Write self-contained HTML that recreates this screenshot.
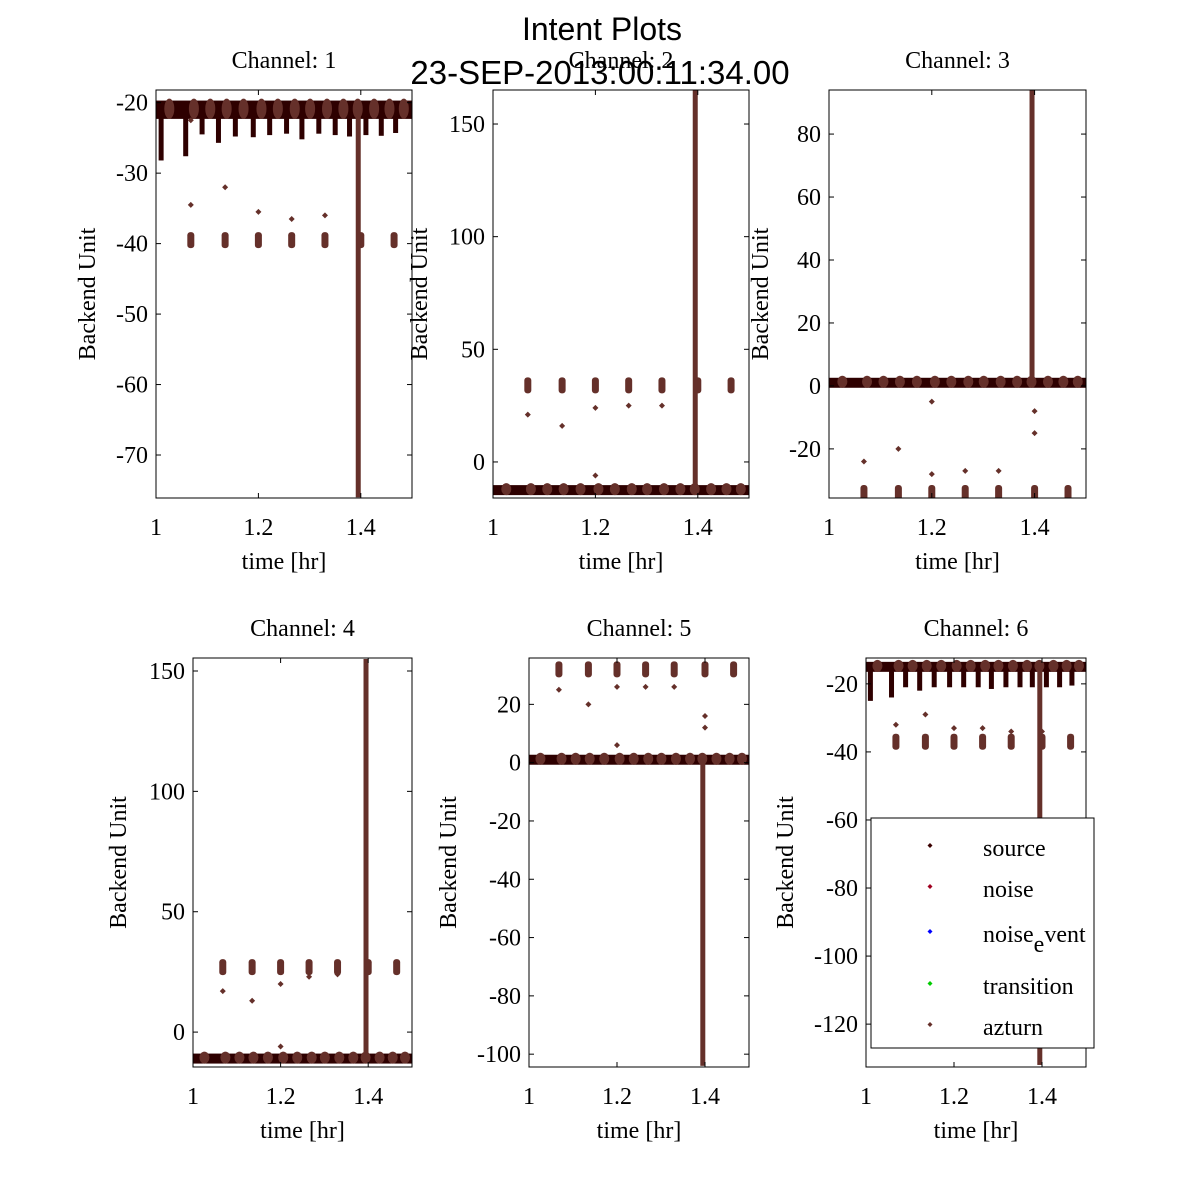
<!DOCTYPE html>
<html><head><meta charset="utf-8"><style>
body{margin:0;background:#fff}
svg{display:block}
text{font-family:"Liberation Serif",serif;fill:#000}
</style></head><body>
<svg id="fig" width="1200" height="1200" viewBox="0 0 1200 1200" xmlns="http://www.w3.org/2000/svg">
<rect width="1200" height="1200" fill="#fff"/>
<text x="602" y="40" text-anchor="middle" style="font-family:'Liberation Sans',sans-serif;font-size:32px">Intent Plots</text>
<text x="600" y="84" text-anchor="middle" style="font-family:'Liberation Sans',sans-serif;font-size:33px">23-SEP-2013:00:11:34.00</text>
<g id="panels"></g>
<g id="legend">
<rect x="871" y="818" width="223" height="230" fill="#fff" stroke="#000" stroke-width="1"/>
</g>
</svg>
<script>
// ---- data ----
const channels = ["1","2","3","4","5","6"];
const xTicks = [1, 1.2, 1.4];
const yTicks1 = [-20,-30,-40,-50,-60,-70];
const yTicks2 = [0,50,100,150];
const yTicks3 = [-20,0,20,40,60,80];
const yTicks4 = [0,50,100,150];
const yTicks5 = [-100,-80,-60,-40,-20,0,20];
const yTicks6 = [-120,-100,-80,-60,-40,-20];
const yRanges = [[-76.1,-18.2],[-16,165.1],[-35.6,94],[-14.5,155.4],[-104.4,35.9],[-132.6,-12.4]];
const bandLevels = [-21,-12.5,1,-11,1,-15];
const clusterLevels = [-39.5,34,-34,27,32,-37];
const clusterX = [1.068,1.135,1.2,1.265,1.33,1.4,1.465];
const spikeX = 1.395;
const spikeEnds = [-76,165,94,155,-104,-132];
const stripeX = [1.01,1.058,1.09,1.122,1.155,1.19,1.222,1.255,1.285,1.318,1.35,1.378,1.41,1.44,1.468];
const stripeDepth1 = [-28.2,-27.6,-24.5,-25.7,-24.8,-24.9,-24.6,-24.4,-25.2,-24.4,-24.6,-24.8,-24.6,-24.7,-24.3];
const stripeDepth6 = [-25,-24,-21,-22,-21,-21,-21,-21,-21.5,-21,-21,-21,-21,-21,-20.5];
const outliers1 = [[1.068,-34.5],[1.135,-32],[1.2,-35.5],[1.265,-36.5],[1.33,-36],[1.068,-22.5]];
const outliers2 = [[1.068,21],[1.135,16],[1.2,24],[1.265,25],[1.33,25],[1.2,-6]];
const outliers3 = [[1.068,-24],[1.135,-20],[1.2,-28],[1.265,-27],[1.33,-27],[1.4,-15],[1.4,-8],[1.2,-5]];
const outliers4 = [[1.068,17],[1.135,13],[1.2,20],[1.265,23],[1.33,24],[1.2,-6]];
const outliers5 = [[1.068,25],[1.135,20],[1.2,26],[1.265,26],[1.33,26],[1.4,16],[1.4,12],[1.2,6]];
const outliers6 = [[1.068,-32],[1.135,-29],[1.2,-33],[1.265,-33],[1.33,-34],[1.4,-34]];
const allTicks=[yTicks1,yTicks2,yTicks3,yTicks4,yTicks5,yTicks6];
const allOut=[outliers1,outliers2,outliers3,outliers4,outliers5,outliers6];
const stripes=[stripeDepth1,null,null,null,null,stripeDepth6];
// ---- layout ----
const boxes=[[156,90,412,498],[493,90,749,498],[829,90,1086,498],[193,658,412,1067],[529,658,749,1067],[866,658,1086,1067]];
const ylabX=[95,427,768,126,456,793];
const NS="http://www.w3.org/2000/svg";
const DARK="#2e0000", BR="#65302a";
const FS=24;
const root=document.getElementById('panels');
function mk(tag,attrs,parent){const e=document.createElementNS(NS,tag);for(const k in attrs)e.setAttribute(k,attrs[k]);parent.appendChild(e);return e;}
channels.forEach((ch,i)=>{
  const [L,T,R,B]=boxes[i];const [y0,y1]=yRanges[i];
  const sx=v=>L+(v-1)/(0.5)*(R-L);
  const sy=v=>B-(v-y0)/(y1-y0)*(B-T);
  const g=mk('g',{},root);
  
  
  const cid='clip'+i;
  const cp=mk('clipPath',{id:cid},g);mk('rect',{x:L,y:T,width:R-L,height:B-T},cp);
  const d=mk('g',{'clip-path':'url(#'+cid+')'},g);
  
  
  const bl=bandLevels[i];
  if(stripes[i]){stripes[i].forEach((dv,k)=>{const r=mk('rect',{x:sx(stripeX[k])-2.5,y:sy(bl),width:5,height:Math.max(0,sy(dv)-sy(bl)),fill:DARK},d);
    });}
  const bh=Math.max(10,Math.abs(sy(bl+1.3)-sy(bl-1.3)));
  const band=mk('rect',{x:L,y:sy(bl)-bh/2,width:R-L,height:bh,fill:DARK},d);
  
  for(let k=0;k<stripeX.length;k++){const e=mk('ellipse',{cx:sx(stripeX[k]+0.016),cy:sy(bl)-1,rx:5,ry:bh/2+1,fill:BR},d);
    }
  clusterX.forEach(cx=>{const e=mk('rect',{x:sx(cx)-3.5,y:sy(clusterLevels[i])-8,width:7,height:16,rx:3,fill:BR},d);
    });
  allOut[i].forEach(p=>{const e=mk('path',{d:`M${sx(p[0])},${sy(p[1])-3}l3,3l-3,3l-3,-3z`,fill:BR},d);
    });
  const a=sy(bl),b=sy(spikeEnds[i]);
  const sp=mk('rect',{x:sx(spikeX)-2.5,y:Math.min(a,b),width:5,height:Math.abs(b-a),fill:BR},d);
  
  const ax=mk('rect',{x:L,y:T,width:R-L,height:B-T,fill:'none',stroke:'#000','stroke-width':1},g);
  
  xTicks.forEach(t=>{const x=sx(t);
    mk('line',{x1:x,y1:B,x2:x,y2:B-5,stroke:'#000'},g);mk('line',{x1:x,y1:T,x2:x,y2:T+5,stroke:'#000'},g);
    const tx=mk('text',{x:x,y:B+37,'text-anchor':'middle','font-size':FS},g);tx.textContent=String(t);
    });
  allTicks[i].forEach(t=>{const y=sy(t);
    mk('line',{x1:L,y1:y,x2:L+5,y2:y,stroke:'#000'},g);mk('line',{x1:R,y1:y,x2:R-5,y2:y,stroke:'#000'},g);
    const tx=mk('text',{x:L-8,y:y+8,'text-anchor':'end','font-size':FS},g);tx.textContent=String(t);
    });
  const tt=mk('text',{x:(L+R)/2,y:T-22,'text-anchor':'middle','font-size':FS},g);tt.textContent='Channel: '+ch;
  
  const xl=mk('text',{x:(L+R)/2,y:B+71,'text-anchor':'middle','font-size':FS},g);xl.textContent='time [hr]';
  
  const cy=(T+B)/2;
  const yl=mk('text',{x:ylabX[i],y:cy,'text-anchor':'middle','font-size':FS,transform:`rotate(-90 ${ylabX[i]} ${cy})`},g);yl.textContent='Backend Unit';
  
});
const legNames=["source","noise","noise","transition","azturn"];
const legColors=["#3a0000","#a00020","#0000ff","#00cc00","#65302a"];
const legY=[848,889,934,986,1027];
const lg=document.getElementById('legend');
legNames.forEach((n,k)=>{
  const e=mk('g',{},lg);
  
  
  mk('path',{d:`M930,${legY[k]-5}l2.5,2.5l-2.5,2.5l-2.5,-2.5z`,fill:legColors[k]},e);
  const t=mk('text',{x:983,y:legY[k]+8,'font-size':FS},e);t.textContent=n;
  if(k===2){const s=mk('tspan',{dy:10},t);s.textContent='e';const v=mk('tspan',{dy:-10},t);v.textContent='vent';}
});
</script>
</body></html>
